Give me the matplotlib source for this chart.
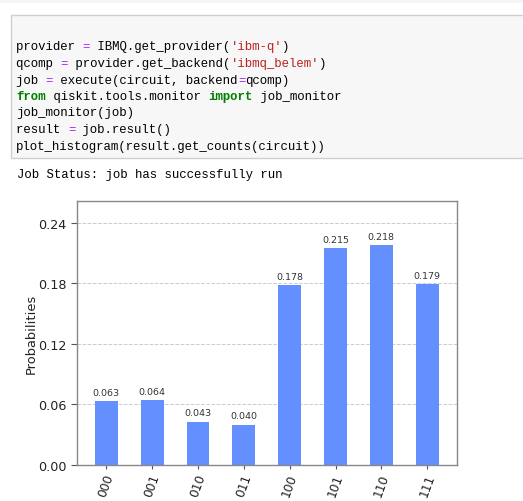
import matplotlib
matplotlib.use("Agg")
import matplotlib.pyplot as plt
from matplotlib.patches import Rectangle

states = ["000", "001", "010", "011", "100", "101", "110", "111"]
probs = [0.063, 0.064, 0.043, 0.040, 0.178, 0.215, 0.218, 0.179]
yticks = [0.00, 0.06, 0.12, 0.18, 0.24]

code_lines = [
    [("provider ", "n"), ("=", "o"), (" IBMQ.get_provider(", "n"), ("'ibm-q'", "s"), (")", "n")],
    [("qcomp ", "n"), ("=", "o"), (" provider.get_backend(", "n"), ("'ibmq_belem'", "s"), (")", "n")],
    [("job ", "n"), ("=", "o"), (" execute(circuit, backend", "n"), ("=", "o"), ("qcomp)", "n")],
    [("from", "k"), (" qiskit.tools.monitor ", "n"), ("import", "k"), (" job_monitor", "n")],
    [("job_monitor(job)", "n")],
    [("result ", "n"), ("=", "o"), (" job.result()", "n")],
    [("plot_histogram(result.get_counts(circuit))", "n")],
]
output_line = "Job Status: job has successfully run"

W, H = 523, 502
fig = plt.figure(figsize=(W / 100, H / 100), dpi=100)
fig.patch.set_facecolor("white")

def fx(px):
    return px / W

def fy(py):
    return 1 - py / H

# top strip
fig.add_artist(Rectangle((0, fy(4)), 1, 4 / H, transform=fig.transFigure,
                         facecolor="#f5f5f5", edgecolor="none"))
# code cell box
fig.add_artist(Rectangle((fx(11), fy(159)), fx(530) - fx(11), (159 - 16) / H,
                         transform=fig.transFigure, facecolor="#f7f7f7",
                         edgecolor="#cfcfcf", linewidth=1.0))

colors = {"n": "#000000", "o": "#aa22ff", "s": "#ba2121", "k": "#008000"}
cw = 7.4
x0 = 16
line_y = [47.3, 64.3, 81.0, 97.3, 113.3, 130.0, 146.7]
fs_code = 8.9
for segs, yy in zip(code_lines, line_y):
    col = 0
    for txt, kind in segs:
        fig.text(fx(x0 + col * cw), fy(yy), txt, family="Liberation Mono",
                 fontsize=fs_code, color=colors[kind], va="center", ha="left",
                 fontweight="bold" if kind == "k" else "normal")
        col += len(txt)

fig.text(fx(17), fy(175), output_line, family="Liberation Mono",
         fontsize=fs_code, color="#000000", va="center", ha="left")

# histogram
ax = fig.add_axes([77 / W, 1 - 466 / H, (457 - 77) / W, (466 - 202) / H])
xs = list(range(len(states)))
bars = ax.bar(xs, probs, width=0.5, color="#648fff", zorder=2)
ax.set_xlim(-0.64, 7.65)
ax.set_ylim(0, max(probs) * 1.2)
ax.set_yticks(yticks)
ax.set_yticklabels([f"{v:.2f}" for v in yticks])
ax.set_xticks(xs)
ax.set_xticklabels(states, rotation=70, ha="center")
ax.tick_params(axis="y", labelsize=9.2, colors="#555555", labelcolor="#222222",
               length=4, width=0.8)
ax.tick_params(axis="x", labelsize=8.8, colors="#555555", labelcolor="#222222",
               length=3, width=0.8, pad=1.5)
ax.yaxis.grid(True, linestyle="--", color="#cccccc", linewidth=0.7, zorder=0)
ax.set_axisbelow(True)
for sp in ax.spines.values():
    sp.set_color("#888888")
    sp.set_linewidth(1.0)
ax.set_ylabel("Probabilities", fontsize=9.4, color="#222222", labelpad=0.5)
for b, p in zip(bars, probs):
    ax.annotate(f"{p:.3f}", (b.get_x() + b.get_width() / 2, p),
                xytext=(0, 3), textcoords="offset points",
                ha="center", va="bottom", fontsize=6.8, color="#333333")

fig.savefig("out.png", dpi=100)
